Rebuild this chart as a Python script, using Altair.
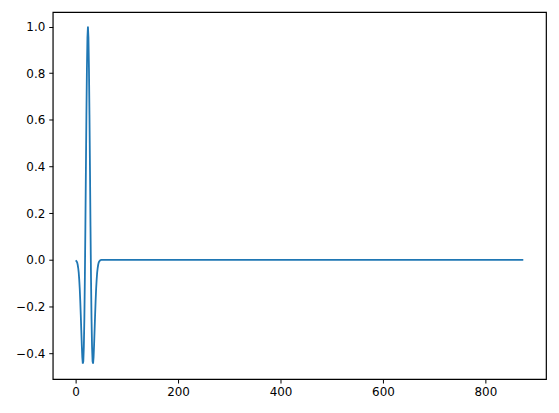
import altair as alt
import pandas as pd

# sample index and wavelet amplitude
xs = list(range(0, 53)) + [874]
ys = [
    -0.002, -0.004, -0.007, -0.012, -0.021, -0.035, -0.055, -0.085, -0.124, -0.175,
    -0.235, -0.301, -0.365, -0.418, -0.445, -0.434, -0.372, -0.253, -0.078, 0.142,
    0.384, 0.621, 0.820, 0.953, 1.000, 0.953, 0.820, 0.621, 0.384, 0.142,
    -0.078, -0.253, -0.372, -0.434, -0.445, -0.418, -0.365, -0.301, -0.235, -0.175,
    -0.124, -0.085, -0.055, -0.035, -0.021, -0.012, -0.007, -0.004, -0.002, -0.001,
    -0.0005, 0.0, 0.0, 0.0,
]
x_ticks = [0, 200, 400, 600, 800]
y_ticks = [-0.4, -0.2, 0.0, 0.2, 0.4, 0.6, 0.8, 1.0]

df = pd.DataFrame({"x": xs, "y": ys})

axis_common = dict(
    grid=False,
    domain=False,
    tickColor="black",
    tickSize=4,
    tickWidth=1,
    labelColor="black",
    labelFont="DejaVu Sans",
    labelFontSize=12,
    labelPadding=4,
    title=None,
)

chart = (
    alt.Chart(df)
    .mark_line(color="#1f77b4", strokeWidth=1.8, clip=True)
    .encode(
        x=alt.X(
            "x:Q",
            scale=alt.Scale(domain=[-44.7, 918.4], nice=False, zero=False),
            axis=alt.Axis(values=x_ticks, format="d", **axis_common),
        ),
        y=alt.Y(
            "y:Q",
            scale=alt.Scale(domain=[-0.511, 1.062], nice=False, zero=False),
            axis=alt.Axis(
                values=y_ticks,
                format=".1f",
                labelExpr="replace(replace(datum.label, '-', '\u2212'), '\u2212', '\u2212')",
                **axis_common,
            ),
        ),
    )
    .properties(
        width=496,
        height=369,
        autosize=alt.AutoSizeParams(type="none"),
        padding={"left": 45, "top": 3, "right": 5, "bottom": 30},
    )
    .configure(background="white")
    .configure_view(stroke="black", strokeWidth=1.2)
)

chart.save("out.html", embed_options={"renderer": "svg", "actions": False})
